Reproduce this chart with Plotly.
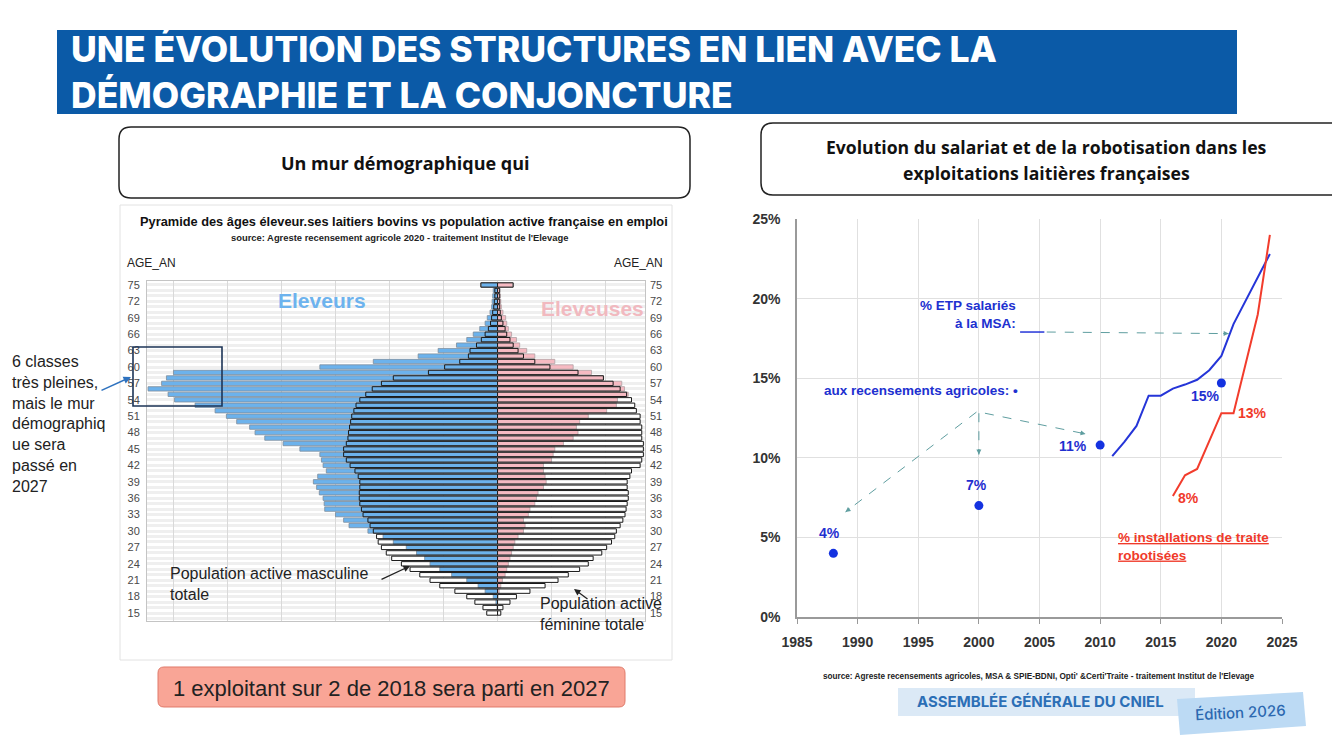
import plotly.graph_objects as go

W, H = 1332, 747
def PX(x): return x / W
def PY(y): return 1 - y / H

# ---------------- data ----------------
ages = list(range(15, 76))
age_ticks = list(range(15, 76, 3))

eleveurs = [0.0, 0.01, 0.03, 0.08, 0.23, 0.36, 0.57, 0.85, 1.07, 1.25,
            1.35, 1.50, 1.69, 1.93, 2.12, 2.40, 2.75, 2.85, 3.00, 3.20,
            3.21, 3.23, 3.30, 3.35, 3.41, 3.33, 3.17, 3.23, 3.26, 3.29,
            3.66, 3.97, 4.31, 4.49, 4.59, 4.83, 5.02, 5.23, 5.60, 5.98,
            6.10, 6.47, 6.22, 6.13, 6.00, 3.29, 2.30, 1.47, 1.10, 0.76,
            0.57, 0.45, 0.33, 0.23, 0.19, 0.14, 0.11, 0.10, 0.09, 0.08,
            0.30]
eleveuses = [0.0, 0.0, 0.0, 0.01, 0.03, 0.06, 0.09, 0.14, 0.17, 0.20,
             0.23, 0.26, 0.29, 0.32, 0.38, 0.48, 0.51, 0.48, 0.57, 0.60,
             0.69, 0.72, 0.75, 0.85, 0.90, 0.88, 0.85, 0.85, 1.00, 1.03,
             1.06, 1.22, 1.40, 1.49, 1.46, 1.52, 1.68, 2.02, 2.20, 2.22,
             2.42, 2.35, 2.30, 1.96, 1.74, 1.40, 1.06, 0.69, 0.54, 0.41,
             0.35, 0.26, 0.20, 0.17, 0.15, 0.10, 0.07, 0.06, 0.05, 0.04,
             0.28]
pop_masc = [0.20, 0.27, 0.42, 0.57, 0.79, 1.07, 1.25, 1.44, 1.62, 1.78,
            1.96, 2.06, 2.15, 2.21, 2.24, 2.30, 2.36, 2.40, 2.49, 2.52,
            2.55, 2.56, 2.56, 2.55, 2.55, 2.58, 2.64, 2.73, 2.80, 2.85,
            2.85, 2.80, 2.77, 2.76, 2.74, 2.72, 2.70, 2.66, 2.62, 2.55,
            2.44, 2.32, 2.15, 1.93, 1.28, 0.98, 0.70, 0.54, 0.51, 0.39,
            0.30, 0.23, 0.17, 0.13, 0.11, 0.09, 0.07, 0.06, 0.05, 0.05,
            0.31]
pop_fem = [0.06, 0.10, 0.23, 0.35, 0.60, 0.88, 1.12, 1.31, 1.52, 1.68,
           1.77, 1.93, 2.02, 2.11, 2.17, 2.20, 2.27, 2.32, 2.36, 2.38,
           2.40, 2.42, 2.42, 2.40, 2.40, 2.45, 2.48, 2.64, 2.67, 2.70,
           2.70, 2.70, 2.67, 2.67, 2.67, 2.64, 2.64, 2.57, 2.54, 2.48,
           2.39, 2.27, 2.14, 1.96, 1.49, 0.97, 0.69, 0.48, 0.38, 0.29,
           0.23, 0.17, 0.14, 0.10, 0.07, 0.05, 0.04, 0.04, 0.04, 0.04,
           0.29]

annees_msa = [2011, 2012, 2013, 2014, 2015, 2016, 2017, 2018, 2019, 2020, 2021, 2022, 2023, 2024]
etp_msa = [10.1, 11.0, 12.0, 13.9, 13.9, 14.35, 14.6, 14.9, 15.5, 16.4, 18.4, 19.9, 21.3, 22.8]
annees_rec = [1988, 2000, 2010, 2020]
etp_rec = [4.0, 7.0, 10.8, 14.7]
annees_robot = [2016, 2017, 2018, 2019, 2020, 2021, 2022, 2023, 2024]
robot = [7.6, 8.9, 9.3, 11.0, 12.8, 12.8, 15.9, 19.0, 24.0]

rec_labels = ["4%", "7%", "11%", "15%"]
pct_ticks = [0, 5, 10, 15, 20, 25]
year_ticks = list(range(1985, 2026, 5))

# ---------------- styles ----------------
BLUE = '#6cb2ec'
PINK = '#f6bac2'
LINE_BLUE = '#2535d8'
LINE_RED = '#f23c2c'
ARIAL = 'Liberation Sans, Arial, sans-serif'
BAR_W = 0.8

fig = go.Figure()

def neg(v):
    return [-a for a in v]

def pyr(xv, yax, color, lcolor, lw):
    fig.add_trace(go.Bar(x=xv, y=ages, orientation='h', width=BAR_W,
                         marker=dict(color=color, line=dict(color=lcolor, width=lw)),
                         xaxis='x', yaxis=yax, hoverinfo='skip', showlegend=False))

pyr(neg(pop_masc), 'y', 'white', 'rgba(0,0,0,0)', 0)
pyr(neg(eleveurs), 'y', BLUE, '#7d8d9c', 0.8)
pyr(neg(pop_masc), 'y', 'rgba(0,0,0,0)', '#1a1a1a', 1.0)
pyr(pop_fem, 'y2', 'white', 'rgba(0,0,0,0)', 0)
pyr(eleveuses, 'y2', PINK, '#b0a2a4', 0.8)
pyr(pop_fem, 'y2', 'rgba(0,0,0,0)', '#1a1a1a', 1.0)

fig.add_trace(go.Scatter(x=annees_msa, y=etp_msa, mode='lines',
                         line=dict(color=LINE_BLUE, width=2), xaxis='x2', yaxis='y3',
                         showlegend=False, hoverinfo='skip'))
fig.add_trace(go.Scatter(x=annees_robot, y=robot, mode='lines',
                         line=dict(color=LINE_RED, width=2), xaxis='x2', yaxis='y3',
                         showlegend=False, hoverinfo='skip'))
fig.add_trace(go.Scatter(x=annees_rec, y=etp_rec, mode='markers',
                         marker=dict(color='#1432e0', size=9), xaxis='x2', yaxis='y3',
                         showlegend=False, hoverinfo='skip'))

# ---------------- helpers ----------------
shapes = []
annotations = []

def rrect(x0, y0, x1, y1, r, fill, lcolor, lw):
    pts = [('M', x0 + r, y0), ('L', x1 - r, y0), ('Q', x1, y0, x1, y0 + r),
           ('L', x1, y1 - r), ('Q', x1, y1, x1 - r, y1), ('L', x0 + r, y1),
           ('Q', x0, y1, x0, y1 - r), ('L', x0, y0 + r), ('Q', x0, y0, x0 + r, y0)]
    path = ''
    for p in pts:
        cmd = p[0]
        coords = p[1:]
        s = []
        for i in range(0, len(coords), 2):
            s.append('%.5f,%.5f' % (PX(coords[i]), PY(coords[i + 1])))
        path += cmd + ' ' + ' '.join(s) + ' '
    path += 'Z'
    shapes.append(dict(type='path', path=path, xref='paper', yref='paper',
                       fillcolor=fill, line=dict(color=lcolor, width=lw)))

def prect(x0, y0, x1, y1, fill, lcolor='rgba(0,0,0,0)', lw=0, layer='above'):
    shapes.append(dict(type='rect', xref='paper', yref='paper', x0=PX(x0), x1=PX(x1),
                       y0=PY(y1), y1=PY(y0), fillcolor=fill,
                       line=dict(color=lcolor, width=lw), layer=layer))

def ptext(text, x, y, size, color='#222', bold=False, xanchor='center', family=ARIAL,
          align='center', weight=None, angle=0):
    f = dict(size=size, color=color, family=family)
    if weight is not None:
        f['weight'] = weight
    elif bold:
        f['weight'] = 'bold'
    annotations.append(dict(text=text, x=PX(x), y=PY(y), xref='paper', yref='paper',
                            showarrow=False, xanchor=xanchor, yanchor='middle',
                            font=f, align=align, textangle=angle))

# ---------------- slide decoration ----------------
HEAD = 'Inter, Liberation Sans, sans-serif'
prect(57, 30, 1237, 114, '#0b5aa7')
ptext('UNE ÉVOLUTION DES STRUCTURES EN LIEN AVEC LA', 69, 49, 35.5, 'white',
      xanchor='left', family=HEAD, weight=800)
ptext('DÉMOGRAPHIE ET LA CONJONCTURE', 69, 95, 35.5, 'white',
      xanchor='left', family=HEAD, weight=800)

OPEN = 'Open Sans, Liberation Sans, sans-serif'
rrect(119, 127, 690, 198, 12, 'white', '#222', 1.5)
ptext('Un mur démographique qui', 405, 163, 18, '#111', bold=True, family=OPEN)
rrect(761, 123, 1345, 195, 12, 'white', '#222', 1.5)
ptext('Evolution du salariat et de la robotisation dans les', 1046, 147, 17.6, '#111',
      bold=True, family=OPEN)
ptext('exploitations laitières françaises', 1046, 173, 17.6, '#111', bold=True, family=OPEN)

# pyramid image frame
prect(120, 205, 672, 660, 'rgba(0,0,0,0)', '#e2e2e2', 1, layer='below')
ptext('Pyramide des âges éleveur.ses laitiers bovins vs population active française en emploi',
      404, 222, 12.8, '#111', bold=True)
ptext("source: Agreste recensement agricole 2020 - traitement Institut de l'Elevage",
      399, 238, 9.4, '#222', bold=True)
ptext('AGE_AN', 151, 263, 12, '#222')
ptext('AGE_AN', 638, 263, 12, '#222')

# highlight box + arrow
prect(133, 347, 222, 406, 'rgba(0,0,0,0)', '#1d3557', 1.6)
ptext('6 classes<br>très pleines,<br>mais le mur<br>démographiq<br>ue sera<br>passé en<br>2027',
      10, 424, 16, '#222', xanchor='left', align='left')
annotations.append(dict(x=PX(131), y=PY(377), xref='paper', yref='paper', text='',
                        showarrow=True, ax=100 - 131, ay=391 - 377, arrowhead=2,
                        arrowsize=1, arrowwidth=1.5, arrowcolor='#2e72bf'))

# pyramid labels
annotations.append(dict(x=-3.25, y=72.2, xref='x', yref='y', text='Eleveurs', showarrow=False,
                        font=dict(size=21, color='#6db3ee', family=ARIAL, weight='bold')))
annotations.append(dict(x=1.75, y=70.7, xref='x', yref='y', text='Eleveuses', showarrow=False,
                        font=dict(size=21, color='#f1b9bf', family=ARIAL, weight='bold')))
ptext('Population active masculine<br>totale', 168, 584, 16, '#222', xanchor='left', align='left')
annotations.append(dict(x=PX(410), y=PY(566), xref='paper', yref='paper', text='',
                        showarrow=True, ax=380 - 410, ay=580 - 566, arrowhead=2,
                        arrowsize=1, arrowwidth=1.3, arrowcolor='#222'))
ptext('Population active<br>féminine totale', 538, 614, 16, '#222', xanchor='left', align='left')
annotations.append(dict(x=PX(574), y=PY(589), xref='paper', yref='paper', text='',
                        showarrow=True, ax=589 - 574, ay=600 - 589, arrowhead=2,
                        arrowsize=1, arrowwidth=1.3, arrowcolor='#222'))

# salmon box
rrect(158, 667, 625, 707, 6, '#f9a596', '#e07a6a', 1)
ptext('1 exploitant sur 2 de 2018 sera parti en 2027', 391, 688, 22, '#222')

# right chart notes
ptext("source: Agreste recensements agricoles, MSA & SPIE-BDNI, Opti' &Certi'Traite - traitement Institut de l'Elevage",
      1039, 676, 8.2, '#222', bold=True)
prect(898, 688, 1195, 716, '#dbe9f6')
ptext('ASSEMBLÉE GÉNÉRALE DU CNIEL', 1040, 701, 15, '#2c6fb6', family=HEAD, weight=700)
corners = [(1177, 699), (1303, 692), (1306, 726), (1180, 735)]
path = 'M ' + ' L '.join('%.5f,%.5f' % (PX(a), PY(b)) for a, b in corners) + ' Z'
shapes.append(dict(type='path', path=path, xref='paper', yref='paper',
                   fillcolor='#bcdaf4', line=dict(width=0)))
ptext('Édition 2026', 1240, 712, 15, '#2b68b0', family=HEAD, weight=500, angle=-3)

# ---------------- right chart annotations (data coords) ----------------
RB = dict(family=ARIAL, weight='bold')

def dtext(text, x, y, size, color, xanchor='center', align='center'):
    annotations.append(dict(text=text, x=x, y=y, xref='x2', yref='y3', showarrow=False,
                            xanchor=xanchor, yanchor='middle', align=align,
                            font=dict(size=size, color=color, **RB)))

for yr, v, lab, dx, dy in zip(annees_rec, etp_rec, rec_labels,
                              [-0.3, -0.2, -2.2, -1.35], [1.27, 1.29, -0.07, -0.83]):
    dtext(lab, yr + dx, v + dy, 14, '#1f2fd0')

dtext('24%', 2025.65, 23.8, 14, '#f03a2a')
dtext('23%', 2025.65, 22.7, 14, '#1f2fd0')
dtext('13%', 2022.6, 12.8, 14, '#f03a2a')
dtext('8%', 2017.3, 7.5, 14, '#f03a2a')
dtext('% ETP salariés<br>à la MSA:', 2003.2, 19.0, 13.5, '#2030d0', xanchor='right', align='right')
dtext('aux recensements agricoles: •', 2003.4, 14.25, 13.5, '#2030d0', xanchor='right')
dtext('<u>% installations de traite</u><br><u>robotisées</u>', 2011.3, 4.4, 13.5, '#f03a2a',
      xanchor='left', align='left')

shapes.append(dict(type='line', xref='x2', yref='y3', x0=2003.4, x1=2005.4, y0=17.9, y1=17.9,
                   line=dict(color=LINE_BLUE, width=1.5)))

PXY, PPC = 12.125, 15.93

def dashed_arrow(x0, y0, x1, y1):
    shapes.append(dict(type='line', xref='x2', yref='y3', x0=x0, y0=y0, x1=x1, y1=y1,
                       line=dict(color='#5f9ea0', width=1, dash='dash')))
    L = ((x1 - x0) * PXY) ** 2 + ((y1 - y0) * PPC) ** 2
    L = L ** 0.5
    f = 7.0 / L
    annotations.append(dict(x=x1, y=y1, xref='x2', yref='y3', axref='x2', ayref='y3',
                            ax=x1 - f * (x1 - x0), ay=y1 - f * (y1 - y0), text='',
                            showarrow=True, arrowhead=2, arrowsize=1, arrowwidth=1,
                            arrowcolor='#5f9ea0'))

dashed_arrow(2005.6, 17.9, 2020.6, 17.8)
dashed_arrow(1999.8, 12.87, 1989.0, 6.6)
dashed_arrow(2000.0, 12.8, 2000.0, 10.2)
dashed_arrow(2000.5, 12.8, 2008.8, 11.5)

# ---------------- layout ----------------
grid_pyr = '#d9d9d9'
fig.update_layout(
    width=W, height=H, margin=dict(l=0, r=0, t=0, b=0, pad=0, autoexpand=False),
    paper_bgcolor='white', plot_bgcolor='white',
    barmode='overlay', showlegend=False,
    xaxis=dict(domain=[PX(147), PX(645)], range=[-6.49, 2.73], anchor='y',
               showticklabels=False, ticks='', tickmode='linear', tick0=0, dtick=1,
               showgrid=True, gridcolor=grid_pyr, gridwidth=1, zeroline=False, automargin=False,
               showline=True, mirror=True, linecolor='#c4c4c4', fixedrange=True),
    yaxis=dict(domain=[PY(621), PY(281)], range=[13.54, 75.73], anchor='x',
               tickmode='array', tickvals=age_ticks, ticktext=[str(a) for a in age_ticks],
               tickfont=dict(size=11, color='#4a4a4a', family=ARIAL), ticks='',
               ticklabelstandoff=4, showgrid=False, zeroline=False, automargin=False,
               minor=dict(tickmode='linear', tick0=15, dtick=1, showgrid=True,
                          gridcolor='#efefef', gridwidth=3, ticks=''),
               showline=True, mirror=True, linecolor='#c4c4c4', fixedrange=True),
    yaxis2=dict(overlaying='y', side='right', anchor='x', range=[13.54, 75.73],
                tickmode='array', tickvals=age_ticks, ticktext=[str(a) for a in age_ticks],
                tickfont=dict(size=11, color='#4a4a4a', family=ARIAL), ticks='',
                ticklabelstandoff=4, showgrid=False, zeroline=False, showline=False,
                automargin=False, fixedrange=True),
    xaxis2=dict(domain=[PX(797), PX(1282)], range=[1985, 2025], anchor='y3',
                tickmode='array', tickvals=year_ticks, ticktext=[str(y) for y in year_ticks],
                tickfont=dict(size=14, color='#333', family=ARIAL, weight='bold'),
                ticks='outside', ticklen=5, tickcolor='#999', ticklabelstandoff=6,
                showgrid=True, gridcolor='#e0e0e0', zeroline=False, automargin=False,
                showline=True, linecolor='#9a9a9a', linewidth=1.5, fixedrange=True),
    yaxis3=dict(domain=[PY(617), PY(219)], range=[0, 25], anchor='x2',
                tickmode='array', tickvals=pct_ticks, ticktext=['%d%%' % p for p in pct_ticks],
                tickfont=dict(size=14, color='#333', family=ARIAL, weight='bold'),
                ticks='', ticklabelstandoff=12, showgrid=True, gridcolor='#e0e0e0',
                zeroline=False, showline=True, linecolor='#9a9a9a', linewidth=1.5,
                automargin=False, fixedrange=True),
    shapes=shapes, annotations=annotations,
)

fig.write_html('out.html',
               post_script="document.body.style.margin='0';document.body.style.padding='0';"
                           "document.documentElement.style.overflow='hidden';")
